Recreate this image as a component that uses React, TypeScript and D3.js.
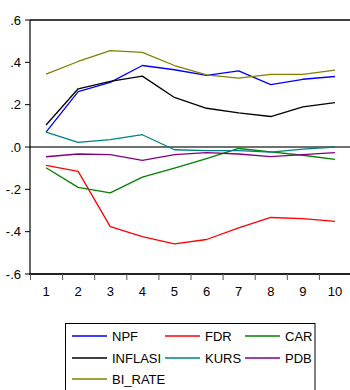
import React from "react";
import * as d3 from "d3";

const periods = [1, 2, 3, 4, 5, 6, 7, 8, 9, 10];
const npf = [0.07, 0.262, 0.305, 0.385, 0.365, 0.338, 0.36, 0.295, 0.32, 0.333];
const fdr = [-0.087, -0.115, -0.376, -0.423, -0.458, -0.437, -0.382, -0.333, -0.338, -0.351];
const car = [-0.098, -0.191, -0.217, -0.142, -0.1, -0.055, -0.007, -0.023, -0.039, -0.058];
const inflasi = [0.104, 0.275, 0.31, 0.335, 0.234, 0.183, 0.161, 0.144, 0.19, 0.21];
const kurs = [0.07, 0.022, 0.035, 0.058, -0.013, -0.017, -0.017, -0.024, -0.01, 0.0];
const pdb = [-0.046, -0.033, -0.036, -0.063, -0.036, -0.027, -0.033, -0.045, -0.036, -0.027];
const biRate = [0.344, 0.404, 0.455, 0.447, 0.385, 0.341, 0.325, 0.343, 0.343, 0.363];
const yTicks = [0.6, 0.4, 0.2, 0.0, -0.2, -0.4, -0.6];
const yTickLabels = [".6", ".4", ".2", ".0", "-.2", "-.4", "-.6"];

const series = [
  { name: "NPF", values: npf, color: "#0000ff" },
  { name: "FDR", values: fdr, color: "#ff0000" },
  { name: "CAR", values: car, color: "#008000" },
  { name: "INFLASI", values: inflasi, color: "#000000" },
  { name: "KURS", values: kurs, color: "#008080" },
  { name: "PDB", values: pdb, color: "#800080" },
  { name: "BI_RATE", values: biRate, color: "#808000" },
];

const W = 350;
const H = 390;
const left = 30;
const right = 351;
const top = 20;
const bottom = 274;
const font = "'Liberation Sans Narrow', 'Arial Narrow', 'Liberation Sans', Arial, sans-serif";

export default function App() {
  const x = d3.scaleBand<number>().domain(periods).range([left, right]);
  const y = d3.scaleLinear().domain([-0.6, 0.6]).range([bottom, top]);
  const cx = (p: number) => (x(p) as number) + x.bandwidth() / 2;
  const line = d3
    .line<number>()
    .x((_, i) => cx(periods[i]))
    .y((v) => y(v));

  const legendCols = [72, 165, 245];
  const legendRows = [336, 358, 379];

  return (
    <svg
      width={W}
      height={H}
      style={{ position: "absolute", left: 0, top: 0, background: "#fff" }}
      fontFamily={font}
    >
      <rect x={0} y={0} width={W} height={H} fill="#fff" />
      {/* zero reference line */}
      <line x1={left} x2={right} y1={y(0)} y2={y(0)} stroke="#707070" strokeWidth={2} />
      {/* frame: top border, left axis, bottom axis */}
      <line x1={left} x2={right} y1={top} y2={top} stroke="#000" strokeWidth={1.6} />
      <line x1={left} x2={left} y1={top} y2={bottom} stroke="#000" strokeWidth={1.2} />
      <line x1={left - 1} x2={right} y1={bottom} y2={bottom} stroke="#222" strokeWidth={2} />
      {yTicks.map((t, i) => (
        <g key={t}>
          <line x1={left - 5} x2={left} y1={y(t)} y2={y(t)} stroke="#000" strokeWidth={1} />
          <text
            x={left - 9}
            y={y(t)}
            dy="0.35em"
            textAnchor="end"
            fontSize={13}
            fill="#000"
          >
            {yTickLabels[i]}
          </text>
        </g>
      ))}
      {periods.map((p) => (
        <g key={p}>
          <line
            x1={(x(p) as number) + 0.5}
            x2={(x(p) as number) + 0.5}
            y1={bottom}
            y2={bottom + 6}
            stroke="#555"
            strokeWidth={1}
          />
          <text x={cx(p)} y={296} textAnchor="middle" fontSize={13} fill="#000">
            {p}
          </text>
        </g>
      ))}
      {series.map((s) => (
        <path
          key={s.name}
          d={line(s.values) ?? ""}
          fill="none"
          stroke={s.color}
          strokeWidth={1.3}
          strokeLinejoin="round"
        />
      ))}
      {/* legend */}
      <rect x={65.5} y={323.5} width={249.5} height={80} fill="#fff" stroke="#000" strokeWidth={1} />
      {series.map((s, i) => {
        const lx = legendCols[i % 3];
        const ly = legendRows[Math.floor(i / 3)];
        return (
          <g key={s.name}>
            <line x1={lx} x2={lx + 35} y1={ly} y2={ly} stroke={s.color} strokeWidth={1.3} />
            <text x={lx + 40} y={ly} dy="0.35em" fontSize={13} fill="#000">
              {s.name}
            </text>
          </g>
        );
      })}
    </svg>
  );
}
